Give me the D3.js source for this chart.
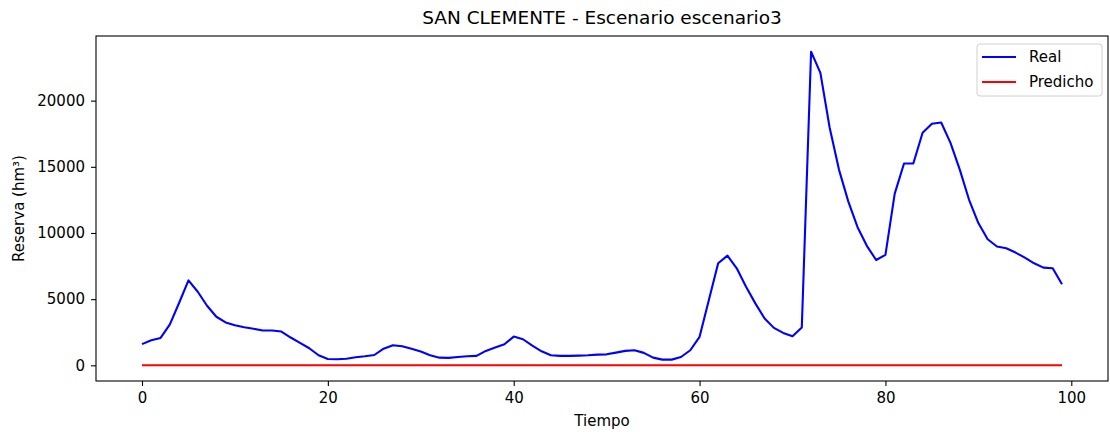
<!DOCTYPE html>
<html>
<head>
<meta charset="utf-8">
<script src="https://cdn.jsdelivr.net/npm/d3@7"></script>
<style>
  html, body { margin: 0; padding: 0; background: #fff; }
  svg { display: block; }
  text { font-family: "DejaVu Sans", sans-serif; fill: #000; }
</style>
</head>
<body>
<svg id="chart" width="1110" height="432"></svg>
<script>
const title = "SAN CLEMENTE - Escenario escenario3";
const xLabel = "Tiempo";
const yLabel = "Reserva (hm³)";
const seriesNames = ["Real", "Predicho"];
const seriesColors = ["#0000ff", "#ff0000"];
const xTicks = [0, 20, 40, 60, 80, 100];
const yTicks = [0, 5000, 10000, 15000, 20000];

const realValues = [
  1600, 1900, 2070, 3090, 4730, 6420, 5560, 4500, 3670, 3240,
  3030, 2880, 2760, 2630, 2630, 2550, 2100, 1690, 1290, 760,
  480, 460, 500, 610, 680, 780, 1260, 1520, 1440, 1260,
  1040, 760, 580, 560, 630, 680, 710, 1090, 1340, 1590,
  2170, 1970, 1490, 1060, 760, 710, 710, 730, 760, 810,
  830, 960, 1090, 1140, 940, 580, 430, 430, 630, 1140,
  2150, 4930, 7710, 8290, 7330, 5940, 4680, 3540, 2830, 2450,
  2200, 2860, 23700, 22100, 17950, 14790, 12390, 10440, 9030, 7960,
  8340, 12970, 15250, 15250, 17570, 18250, 18350, 16810, 14790, 12510,
  10750, 9530, 8980, 8850, 8520, 8140, 7710, 7380, 7330, 6120
];
const predValues = realValues.map(() => 0);
const timeIdx = d3.range(realValues.length);

const svg = d3.select("#chart");
const m = { left: 96, right: 1108, top: 36, bottom: 381 };

const allVals = realValues.concat(predValues);
const yMin = d3.min(allVals), yMax = d3.max(allVals);
const yPad = (yMax - yMin) * 0.05;
const xMin = 0, xMax = realValues.length - 1;
const xPad = (xMax - xMin) * 0.05;

const x = d3.scaleLinear().domain([xMin - xPad, xMax + xPad]).range([m.left, m.right]);
const y = d3.scaleLinear().domain([yMin - yPad, yMax + yPad]).range([m.bottom, m.top]);

const fs = 15;

// Lines
const line = d3.line().x((d, i) => x(timeIdx[i])).y(d => y(d));
const g = svg.append("g");
g.append("path").datum(realValues).attr("d", line)
  .attr("fill", "none").attr("stroke", seriesColors[0]).attr("stroke-width", 2.1)
  .attr("stroke-linejoin", "round").attr("stroke-linecap", "butt");
g.append("path").datum(predValues).attr("d", line)
  .attr("fill", "none").attr("stroke", seriesColors[1]).attr("stroke-width", 2.1)
  .attr("stroke-linejoin", "round").attr("stroke-linecap", "butt");

// Axes
const xAxis = d3.axisBottom(x).tickValues(xTicks).tickSize(5).tickPadding(6).tickFormat(d3.format("d"));
const yAxis = d3.axisLeft(y).tickValues(yTicks).tickSize(5).tickPadding(6).tickFormat(d3.format("d"));
const gx = svg.append("g").attr("transform", `translate(0,${m.bottom})`).call(xAxis);
const gy = svg.append("g").attr("transform", `translate(${m.left},0)`).call(yAxis);
[gx, gy].forEach(a => {
  a.select(".domain").remove();
  a.selectAll(".tick line").attr("stroke", "#000").attr("stroke-width", 1.1);
  a.selectAll(".tick text").attr("font-size", fs).attr("font-family", "DejaVu Sans").attr("fill", "#000");
});

// Frame
svg.append("rect").attr("x", m.left).attr("y", m.top)
  .attr("width", m.right - m.left).attr("height", m.bottom - m.top)
  .attr("fill", "none").attr("stroke", "#000").attr("stroke-width", 1.1);

// Title & labels
svg.append("text").attr("x", (m.left + m.right) / 2).attr("y", 24)
  .attr("text-anchor", "middle").attr("font-size", 18.5).text(title);
svg.append("text").attr("x", (m.left + m.right) / 2).attr("y", 426)
  .attr("text-anchor", "middle").attr("font-size", fs).text(xLabel);
svg.append("text").attr("transform", `translate(24,${(m.top + m.bottom) / 2}) rotate(-90)`)
  .attr("text-anchor", "middle").attr("font-size", fs).text(yLabel);

// Legend
const lg = svg.append("g");
lg.append("rect").attr("x", 977).attr("y", 44).attr("width", 125).attr("height", 52)
  .attr("rx", 3).attr("fill", "#fff").attr("fill-opacity", 0.8)
  .attr("stroke", "#d0d0d0").attr("stroke-width", 1);
seriesNames.forEach((name, i) => {
  const yy = 57 + i * 25;
  lg.append("line").attr("x1", 982).attr("x2", 1016).attr("y1", yy).attr("y2", yy)
    .attr("stroke", seriesColors[i]).attr("stroke-width", 2.1);
  lg.append("text").attr("x", 1029).attr("y", yy + 5).attr("font-size", fs).text(name);
});
</script>
</body>
</html>
